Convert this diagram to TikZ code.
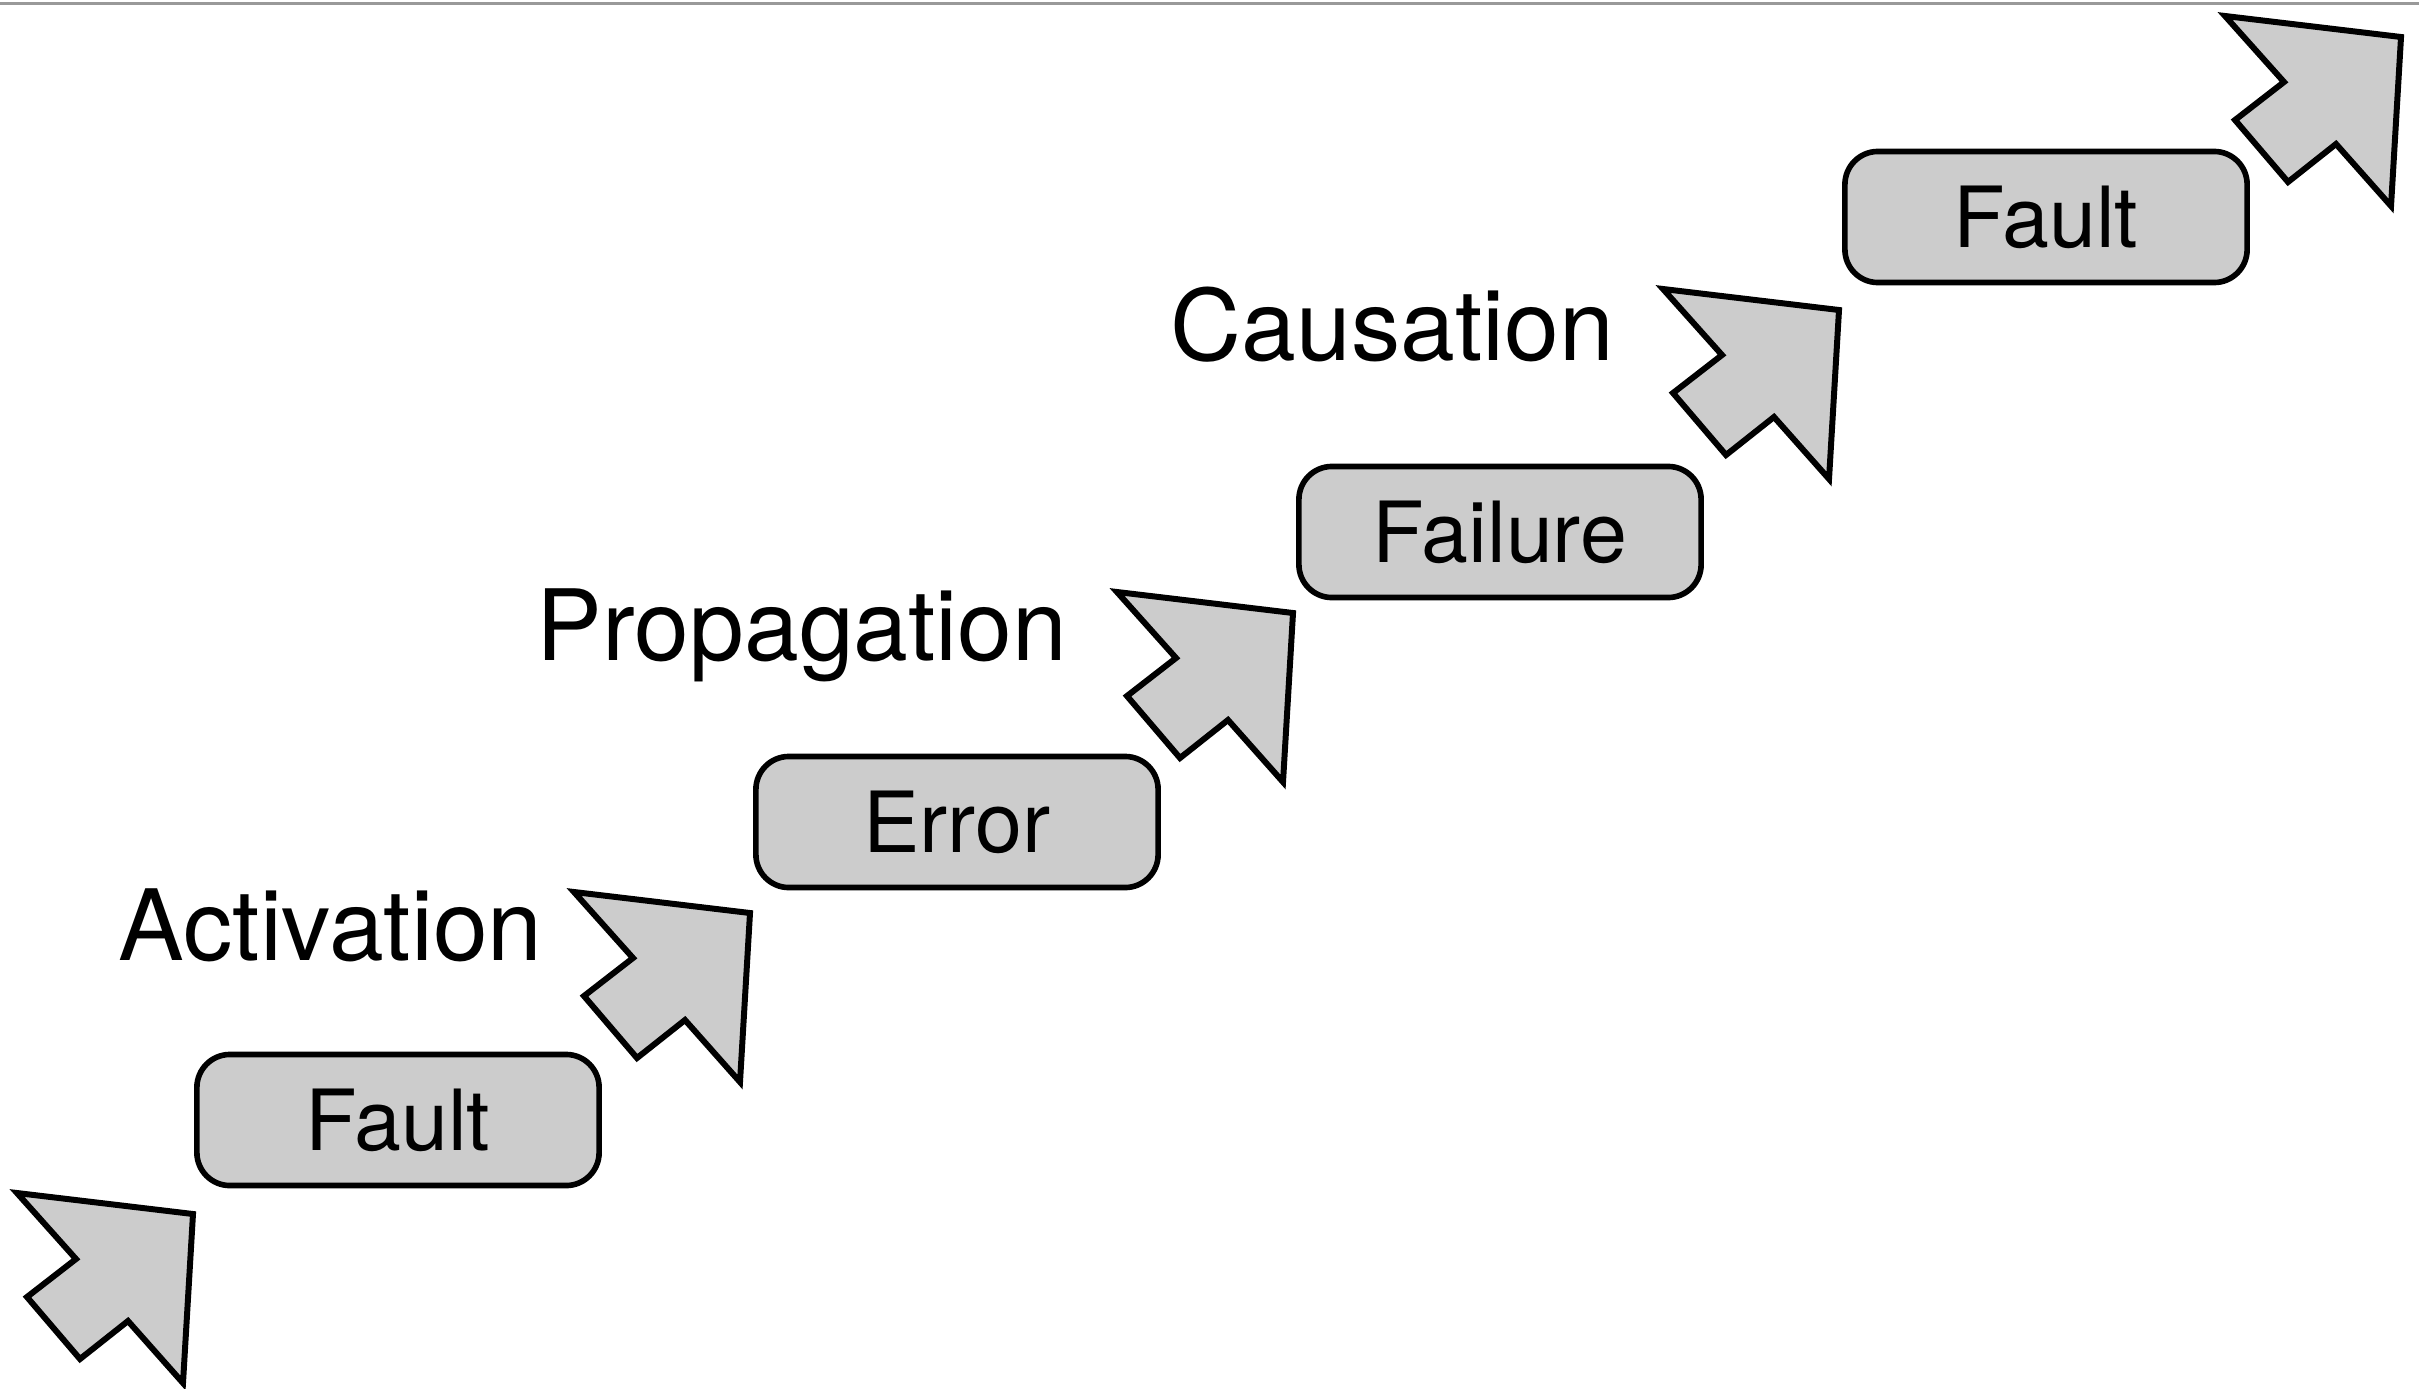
\documentclass[tikz,border=0pt]{standalone}
\usepackage{fontspec}
\setmainfont{TeX Gyre Heros}
\usepackage{xcolor}
\usepackage{tikz}

\tikzset{
  stage/.style={draw=black, fill=black!20, line width=1.6pt, rounded corners=0.33cm,
    minimum width=4.02cm, minimum height=1.31cm, font=\fontsize{24}{28}\selectfont},
  phase/.style={anchor=base west, inner sep=0pt, font=\fontsize{28}{32}\selectfont},
  bigarrow/.style={draw=black, fill=black!20, line width=1.7pt}
}

\begin{document}
\begin{tikzpicture}[x=0.01cm, y=-0.01cm]
\useasboundingbox (0,0) rectangle (2419,1388);
\draw[black!40, line width=0.6pt] (0,3.5) -- (2419,3.5);
% the stair of arrows
\foreach \dx/\dy in {17/1193, 574/892, 1117/592, 1663/289, 2225/16}
  \filldraw[bigarrow, shift={(\dx,\dy)}] (0,0) -- (176,21) -- (166,190) -- (111,128)
    -- (63,166) -- (10,104) -- (59,66) -- cycle;
% states
\node[stage] (fault1) at (398,1120) {Fault};
\node[stage] (error) at (957,822) {Error};
\node[stage] (failure) at (1500,532) {Failure};
\node[stage] (fault2) at (2046,217) {Fault};
% transitions
\node[phase] (activation) at (118,960) {Activation};
\node[phase] (propagation) at (536,660) {Propagation};
\node[phase] (causation) at (1170,360) {Causation};
\end{tikzpicture}
\end{document}
